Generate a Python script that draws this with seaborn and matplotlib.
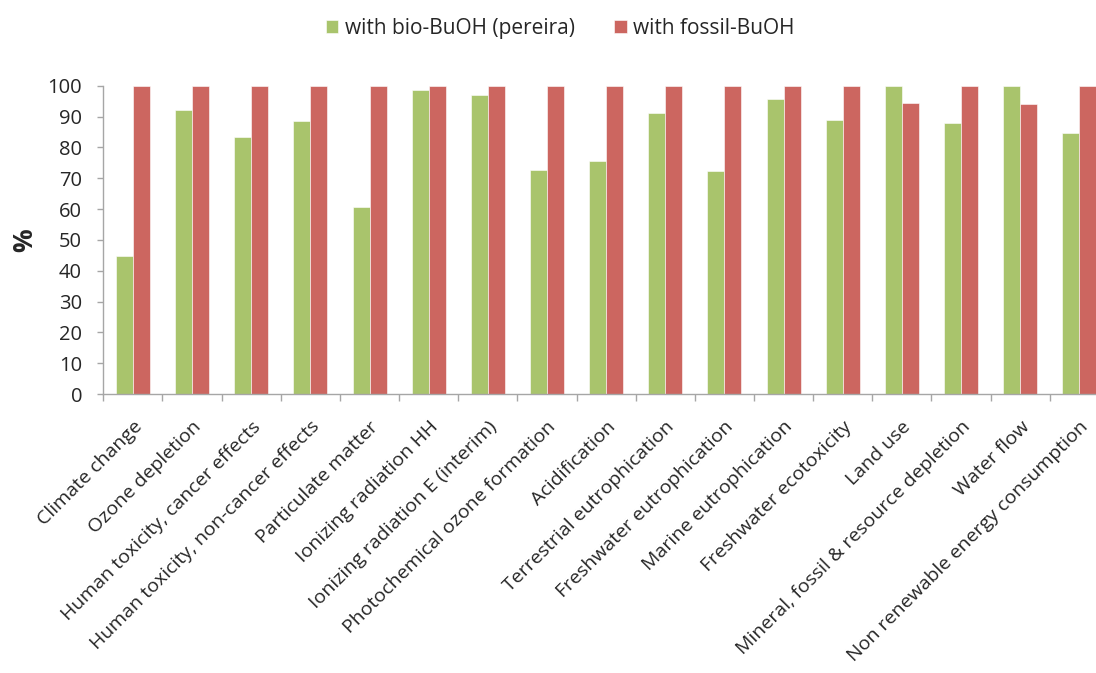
import matplotlib
matplotlib.use("Agg")
import matplotlib.pyplot as plt
import matplotlib.transforms as mtransforms
import seaborn as sns
import pandas as pd
import numpy as np
from matplotlib.ticker import FixedLocator

categories = ["Climate change", "Ozone depletion", "Human toxicity, cancer effects",
              "Human toxicity, non-cancer effects", "Particulate matter",
              "Ionizing radiation HH", "Ionizing radiation E (interim)",
              "Photochemical ozone formation", "Acidification",
              "Terrestrial eutrophication", "Freshwater eutrophication",
              "Marine eutrophication", "Freshwater ecotoxicity", "Land use",
              "Mineral, fossil & resource depletion", "Water flow",
              "Non renewable energy consumption"]
bio = [44.8, 92.2, 83.5, 88.5, 60.6, 98.6, 97.0, 72.6, 75.5, 91.2, 72.4,
       95.7, 88.9, 100, 87.9, 100, 84.7]
fossil = [100, 100, 100, 100, 100, 100, 100, 100, 100, 100, 100,
          100, 100, 94.3, 100, 94.1, 100]
series = ["with bio-BuOH (pereira)", "with fossil-BuOH"]
colors = ["#A9C46C", "#CC6660"]
yticks = list(range(0, 101, 10))

df = pd.DataFrame({
    "category": categories * 2,
    "value": bio + fossil,
    "series": [series[0]] * len(categories) + [series[1]] * len(categories),
})

sns.set_style("white")
plt.rcParams["font.family"] = ["Open Sans", "DejaVu Sans"]

fig = plt.figure(figsize=(10.96, 6.73), dpi=100)
ax = fig.add_axes([0.0943, 0.4145, 0.9174, 0.4582])
sns.barplot(data=df, x="category", y="value", hue="series", palette=colors,
            width=0.575, gap=0, ax=ax, edgecolor="white", linewidth=0.4,
            saturation=1)

ax.set_xlim(-0.5, len(categories) - 0.5)
ax.set_ylim(0, 100)
ax.set_yticks(yticks)
ax.set_yticklabels([str(t) for t in yticks], fontsize=14.5)
ax.set_xticks(range(len(categories)))
ax.set_xticklabels(categories, rotation=45, ha="right", rotation_mode="anchor",
                   fontsize=14)
shift = mtransforms.ScaledTranslation(-4 / 100, 0, fig.dpi_scale_trans)
for lbl in ax.get_xticklabels():
    lbl.set_transform(lbl.get_transform() + shift)
ax.xaxis.set_minor_locator(FixedLocator(np.arange(-0.5, len(categories), 1)))
ax.tick_params(axis="x", which="major", length=0, pad=17)
ax.tick_params(axis="x", which="minor", length=5, width=1, color="#A6A6A6",
               direction="out", bottom=True)
ax.tick_params(axis="y", length=4.3, width=1, color="#A6A6A6", direction="out",
               left=True, pad=11)
ax.set_xlabel("")
ax.set_ylabel("%", fontsize=19, fontweight="bold", labelpad=7)
for s in ["top", "right"]:
    ax.spines[s].set_visible(False)
for s in ["left", "bottom"]:
    ax.spines[s].set_color("#A6A6A6")
    ax.spines[s].set_linewidth(1)

handles, labels = ax.get_legend_handles_labels()
ax.legend_.remove()
fig.legend(handles, labels, loc="center", bbox_to_anchor=(0.511, 0.958),
           ncol=2, frameon=False, fontsize=15, handlelength=0.6,
           handleheight=0.6, handletextpad=0.3, columnspacing=1.9)

fig.savefig("out.png", dpi=100)
